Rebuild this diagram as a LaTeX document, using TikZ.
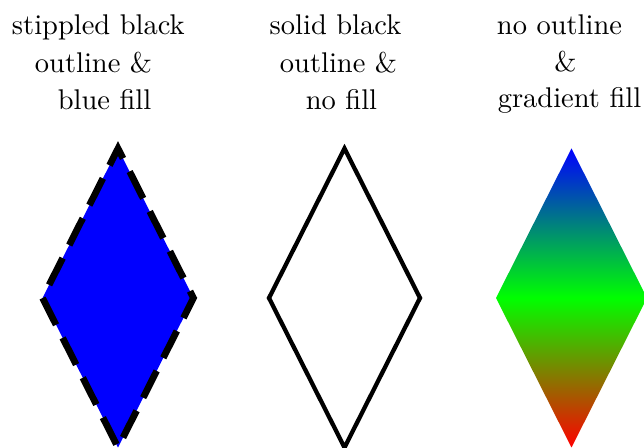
\documentclass[tikz,border=0pt]{standalone}
\begin{document}
\begin{tikzpicture}[x=0.351pt,y=0.351pt,
  lbl/.style={anchor=base,inner sep=0pt,font=\fontsize{10}{12}\selectfont},
  stipplebox/.style={draw=black,fill=blue,line width=2.35pt,line join=miter,
    dash pattern=on 10.53pt off 5.146pt,dash phase=10.53pt},
  solidbox/.style={draw=black,line width=1.5pt,line join=miter},
  gradbox/.style={top color=blue,bottom color=red,middle color=green,draw=none}]
\useasboundingbox (0,0) rectangle (644,448);
\clip (0,0) rectangle (644,448);
% labels
\node[lbl] (a1) at (98.3,413) {stippled black};
\node[lbl] (a2) at (93.5,375) {outline \&};
\node[lbl] (a3) at (104.5,338) {blue fill};
\node[lbl] (b1) at (335.5,413) {solid black};
\node[lbl] (b2) at (338.5,375) {outline \&};
\node[lbl] (b3) at (341.5,338) {no fill};
\node[lbl] (c1) at (559.5,413) {no outline};
\node[lbl] (c2) at (565.5,376) {\&};
\node[lbl] (c3) at (569.5,340) {gradient fill};
% diamond vertices
\foreach \n/\cx in {p/118,q/344.5,r/571.5}{
  \coordinate (\n l) at (\cx-75.5,150);
  \coordinate (\n t) at (\cx,299.5);
  \coordinate (\n r) at (\cx+75.5,150);
  \coordinate (\n b) at (\cx,0.5);
}
\path[stipplebox] (pl) -- (pt) -- (pr) -- (pb) -- cycle;
\path[solidbox] (ql) -- (qt) -- (qr) -- (qb) -- cycle;
\shade[gradbox] (rl) -- (rt) -- (rr) -- (rb) -- cycle;
\end{tikzpicture}
\end{document}
